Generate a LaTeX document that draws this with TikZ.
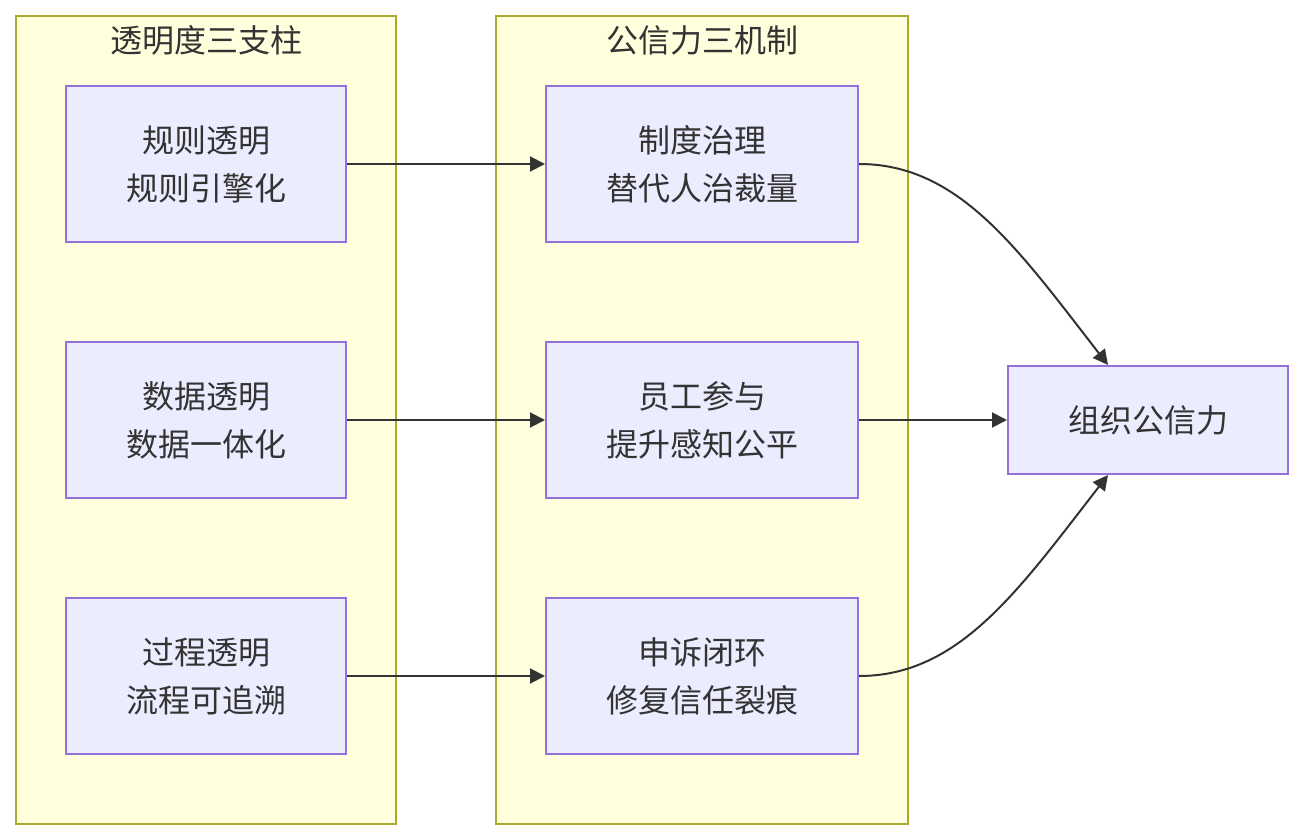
\documentclass[tikz,border=0pt]{standalone}
\usepackage{fontspec}
\setmainfont{Noto Sans CJK SC}
\usetikzlibrary{arrows.meta,positioning}
\definecolor{clusterfill}{HTML}{FFFFDE}
\definecolor{clusterline}{HTML}{AAAA33}
\definecolor{boxfill}{HTML}{ECECFF}
\definecolor{boxline}{HTML}{9370DB}
\definecolor{ink}{HTML}{333333}
\begin{document}
\begin{tikzpicture}[
  x=1pt, y=-1pt,
  cluster/.style={
    draw=clusterline,
    fill=clusterfill,
    line width=2pt,
    minimum height=808pt,
    inner sep=0pt
  },
  title/.style={
    text=ink,
    font=\fontsize{32}{48}\selectfont
  },
  box/.style={
    draw=boxline,
    fill=boxfill,
    line width=2pt,
    align=center,
    minimum height=156pt,
    inner sep=0pt,
    text=ink,
    font=\fontsize{32}{48}\selectfont
  },
  arr/.style={
    draw=ink,
    line width=2pt,
    -{Triangle[length=15pt,width=15pt]}
  }
]
\useasboundingbox (0,0) rectangle (1304,840);

% clusters
\node[cluster, minimum width=380pt] (pillars) at (206,420) {};
\node[cluster, minimum width=412pt] (mechs) at (702,420) {};
\node[title] (pillarstitle) at (206,40) {透明度三支柱};
\node[title] (mechstitle) at (702,40) {公信力三机制};

% left column
\node[box, minimum width=280pt] (rule) at (206,164) {规则透明\\规则引擎化};
\node[box, minimum width=280pt, below=98pt of rule] (data) {数据透明\\数据一体化};
\node[box, minimum width=280pt, below=98pt of data] (proc) {过程透明\\流程可追溯};

% middle column
\node[box, minimum width=312pt, right=198pt of rule] (gov) {制度治理\\替代人治裁量};
\node[box, minimum width=312pt, right=198pt of data] (staff) {员工参与\\提升感知公平};
\node[box, minimum width=312pt, right=198pt of proc] (appeal) {申诉闭环\\修复信任裂痕};

% result
\node[box, minimum width=280pt, minimum height=108pt, right=148pt of staff] (trust) {组织公信力};
\coordinate (trusttop) at ([xshift=-40pt]trust.north);
\coordinate (trustbot) at ([xshift=-40pt]trust.south);

\draw[arr] (rule) -- (gov);
\draw[arr] (data) -- (staff);
\draw[arr] (proc) -- (appeal);
\draw[arr] (gov.east) .. controls +(100,0) and +(-90,-116) .. (trusttop);
\draw[arr] (staff) -- (trust);
\draw[arr] (appeal.east) .. controls +(100,0) and +(-90,116) .. (trustbot);
\end{tikzpicture}
\end{document}
